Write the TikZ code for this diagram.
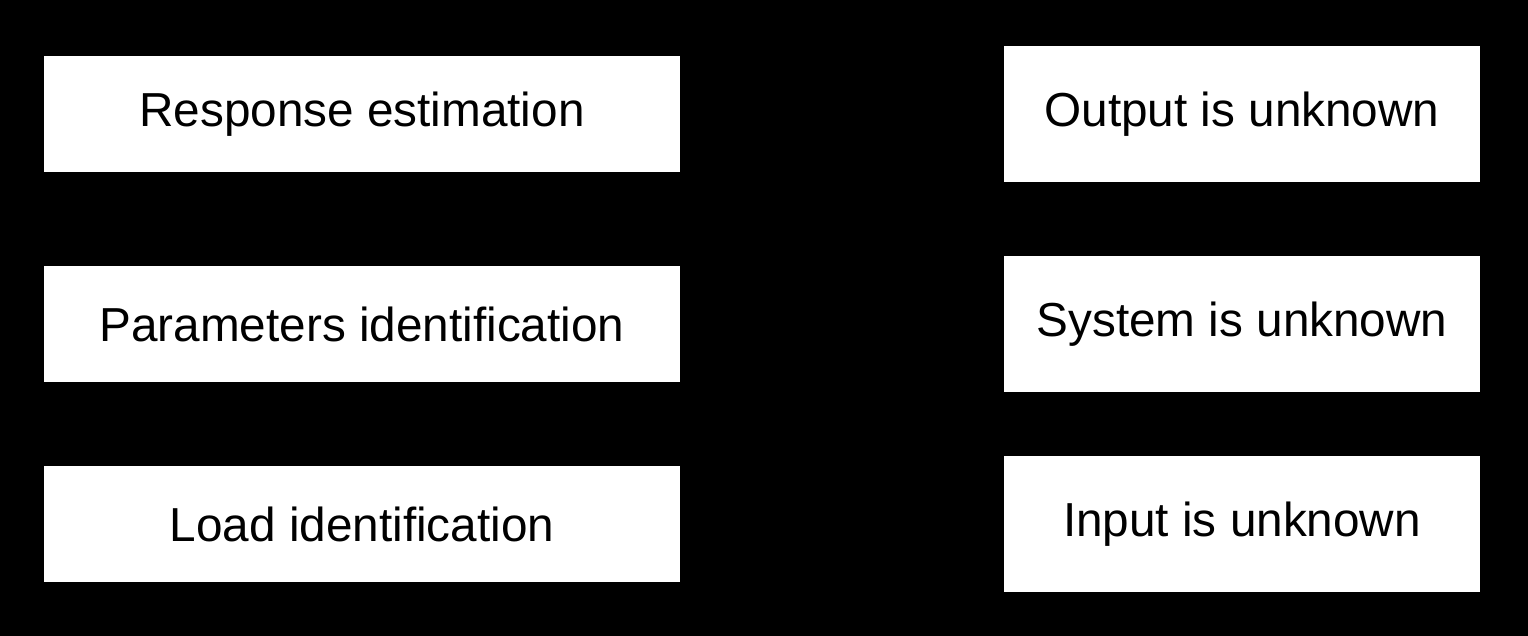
\documentclass[tikz,border=0pt]{standalone}
\usepackage{fontspec}
\setmainfont{Liberation Sans}
\begin{document}
\begin{tikzpicture}[x=1pt,y=-1pt,
  box/.style={fill=white,draw=none,inner sep=0pt,font=\fontsize{47.7}{56}\selectfont,text=black}]
\fill[black] (0,0) rectangle (1528,636);
\useasboundingbox (0,0) rectangle (1528,636);
\node[box,minimum width=636pt,minimum height=116pt] (re) at (362,114) {Response estimation};
\node[box,minimum width=636pt,minimum height=116pt] (pi) at (362,324) {Parameters identification};
\node[box,minimum width=636pt,minimum height=116pt] (li) at (362,524) {Load identification};
\node[box,minimum width=476pt,minimum height=136pt] (ou) at (1242,114) {Output is unknown};
\node[box,minimum width=476pt,minimum height=136pt] (su) at (1242,324) {System is unknown};
\node[box,minimum width=476pt,minimum height=136pt] (iu) at (1242,524) {Input is unknown};
\end{tikzpicture}
\end{document}
